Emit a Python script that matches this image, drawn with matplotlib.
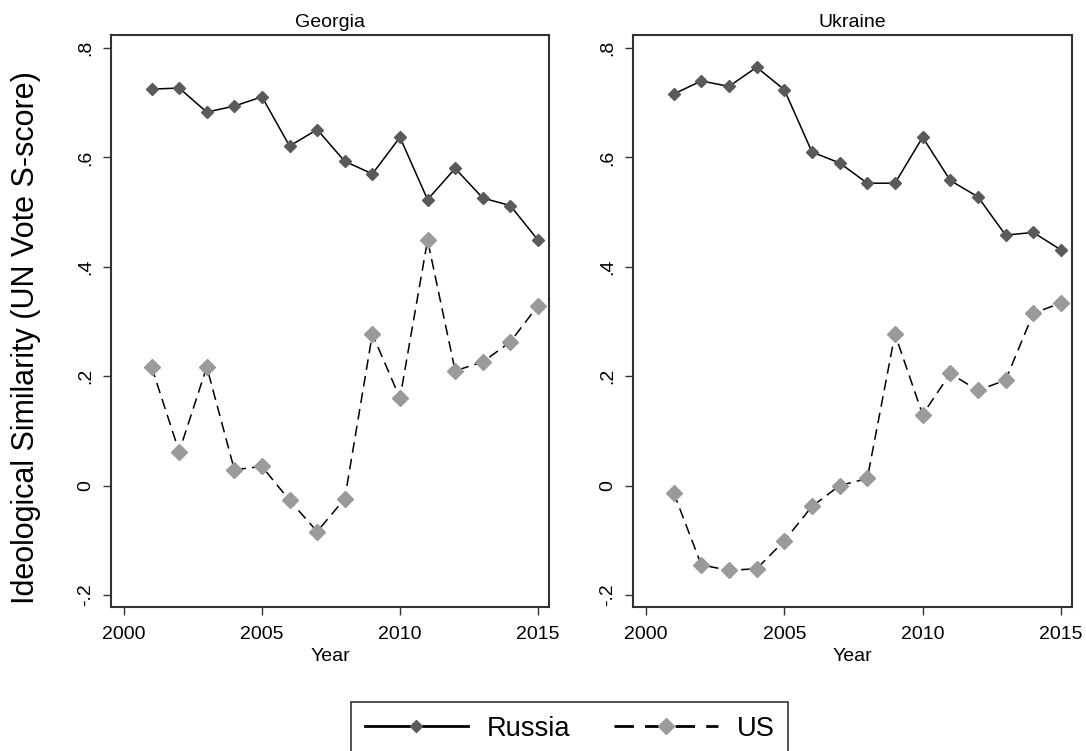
import matplotlib
matplotlib.use("Agg")
import matplotlib.pyplot as plt
from matplotlib.ticker import FixedLocator

plt.rcParams['font.family'] = ['Liberation Sans', 'DejaVu Sans']

years = list(range(2001, 2016))
panels = ["Georgia", "Ukraine"]

georgia_russia = [0.725, 0.727, 0.683, 0.694, 0.711, 0.621, 0.651, 0.593, 0.570,
                  0.637, 0.523, 0.580, 0.526, 0.512, 0.449]
georgia_us = [0.217, 0.062, 0.217, 0.029, 0.035, -0.027, -0.084, -0.024, 0.277,
              0.160, 0.449, 0.210, 0.226, 0.263, 0.329]
ukraine_russia = [0.716, 0.740, 0.730, 0.765, 0.724, 0.610, 0.590, 0.553, 0.553,
                  0.637, 0.558, 0.528, 0.458, 0.463, 0.431]
ukraine_us = [-0.013, -0.145, -0.155, -0.152, -0.101, -0.038, 0.000, 0.013, 0.277,
              0.130, 0.205, 0.174, 0.193, 0.315, 0.334]

russia_series = [georgia_russia, ukraine_russia]
us_series = [georgia_us, ukraine_us]

y_ticks = [-0.2, 0, 0.2, 0.4, 0.6, 0.8]
y_ticklabels = ["-.2", "0", ".2", ".4", ".6", ".8"]
x_ticks = [2000, 2005, 2010, 2015]

W, H = 1086, 751
fig = plt.figure(figsize=(W / 100, H / 100), dpi=100)

boxes = [(111, 549), (633, 1072)]
top, bottom = 35, 607

for i, (name, (l, r)) in enumerate(zip(panels, boxes)):
    ax = fig.add_axes([l / W, 1 - bottom / H, (r - l) / W, (bottom - top) / H])
    ax.plot(years, russia_series[i], color='black', lw=1.1, ls='-',
            marker='D', ms=6.5, mfc='#5a5a5a', mec='#5a5a5a', label='Russia', zorder=3)
    ax.plot(years, us_series[i], color='black', lw=1.1, ls=(0, (7, 4)),
            marker='D', ms=8.5, mfc='#9a9a9a', mec='#9a9a9a', label='US', zorder=3)
    ax.set_xlim(1999.53, 2015.4)
    ax.set_ylim(-0.222, 0.824)
    ax.xaxis.set_major_locator(FixedLocator(x_ticks))
    ax.set_xticklabels([str(x) for x in x_ticks], fontsize=14)
    ax.yaxis.set_major_locator(FixedLocator(y_ticks))
    ax.set_yticklabels(y_ticklabels, fontsize=14, rotation=90, va='center')
    ax.tick_params(direction='out', length=6, width=1, color='#333333')
    ax.tick_params(axis='x', pad=8)
    ax.tick_params(axis='y', pad=6)
    for s in ax.spines.values():
        s.set_linewidth(1.5)
        s.set_color('#333333')
    ax.set_xlabel("Year", fontsize=14, labelpad=3)
    ax.set_title(name, fontsize=14, pad=6)
    if i == 0:
        handles, labels = ax.get_legend_handles_labels()

fig.text(26 / W, 1 - 338 / H, "Ideological Similarity (UN Vote S-score)",
         rotation=90, fontsize=22, ha='center', va='center')

leg = fig.legend(handles, labels, loc='upper left',
                 bbox_to_anchor=(351 / W, 1 - 702 / H), ncol=2, fontsize=19.6,
                 frameon=True, fancybox=False, edgecolor='black',
                 handlelength=3.8, columnspacing=1.6, borderpad=0.5,
                 handletextpad=0.7, borderaxespad=0)
leg.get_frame().set_linewidth(1.2)
for line in leg.get_lines():
    line.set_linewidth(2.0)

fig.savefig("out.png", dpi=100)
